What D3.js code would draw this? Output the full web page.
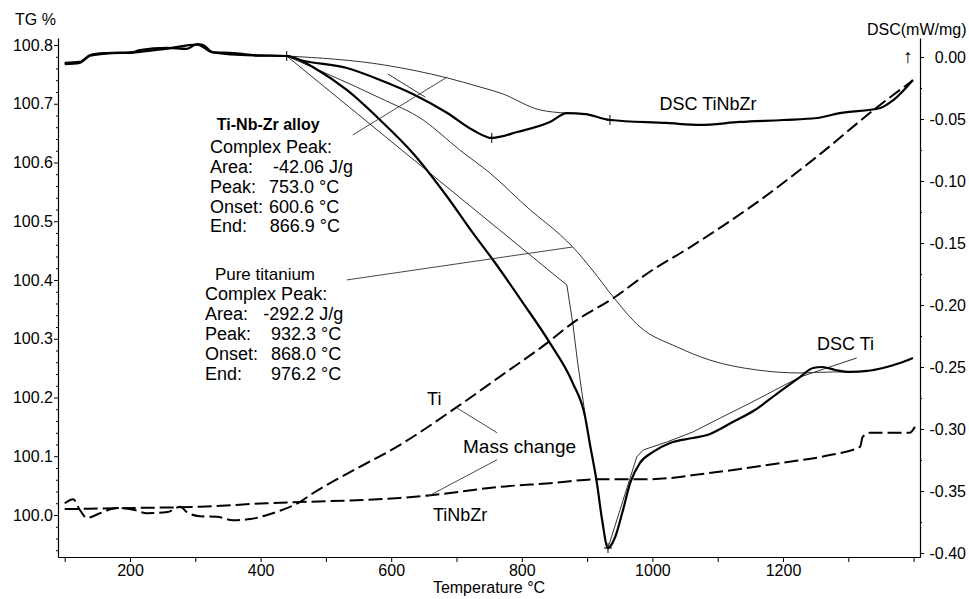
<!DOCTYPE html>
<html><head><meta charset="utf-8">
<script src="https://cdn.jsdelivr.net/npm/d3@7"></script>
<style>
body{margin:0;background:#fff;}
svg text{font-family:"Liberation Sans",Arial,sans-serif;fill:#000;}
</style></head>
<body><svg id="c" width="969" height="599"></svg>
<script>
// ---------- DATA (temperature °C, value) ----------
// DSC curves, mW/mg (right axis)
const dscTiNbZr = [[100,-0.0048],[123,-0.0040],[139,0.0016],[165,0.0032],[205,0.0040],[215,0.0056],[257,0.0073],[287,0.0065],[303,0.0105],[312,0.0097],[327,0.0040],[358,0.0032],[388,0.0016],[440,0.0008],[460,-0.0024],[532,-0.0089],[583,-0.0185],[633,-0.0298],[686,-0.0452],[725,-0.0589],[754,-0.0653],[793,-0.0605],[843,-0.0524],[869,-0.0452],[897,-0.0460],[935,-0.0508],[1022,-0.0532],[1073,-0.0548],[1134,-0.0524],[1200,-0.0508],[1252,-0.0492],[1287,-0.0452],[1349,-0.0411],[1369,-0.0347],[1399,-0.0185]];
const dscTi = [[100,-0.0058],[123,-0.0048],[139,0.0010],[165,0.0028],[205,0.0036],[257,0.0068],[303,0.0100],[327,0.0036],[388,0.0012],[440,0.0008],[460,-0.0024],[480,-0.0081],[532,-0.0266],[583,-0.0508],[633,-0.0774],[686,-0.1129],[725,-0.1419],[756,-0.1637],[802,-0.1984],[843,-0.2306],[878,-0.2629],[897,-0.2903],[904,-0.3113],[915,-0.3435],[923,-0.3734],[932,-0.3960],[943,-0.3871],[955,-0.3653],[966,-0.3435],[981,-0.3274],[1001,-0.3185],[1027,-0.3113],[1062,-0.3073],[1084,-0.3048],[1123,-0.2944],[1157,-0.2847],[1192,-0.2710],[1226,-0.2581],[1246,-0.2508],[1260,-0.2500],[1280,-0.2524],[1303,-0.2540],[1329,-0.2532],[1353,-0.2508],[1379,-0.2468],[1399,-0.2427]];
// peak evaluation construction lines (DSC axis)
const baseTiNbZr = [[440,0.0008],[590,-0.0065],[686,-0.0169],[736,-0.0242],[767,-0.0290],[828,-0.0427],[869,-0.0452]];
const onsetTiNbZr = [[595,-0.0137],[652,-0.0323]];
const baseTi = [[440,0.0008],[506,-0.0145],[583,-0.0331],[649,-0.0508],[705,-0.0750],[751,-0.0935],[813,-0.1234],[859,-0.1435],[878,-0.1532],[908,-0.1718],[940,-0.1935],[981,-0.2177],[1038,-0.2339],[1088,-0.2444],[1160,-0.2524],[1226,-0.2548],[1277,-0.2540],[1303,-0.2540]];
const onsetTi = [[440,0.0008],[869,-0.1839],[878,-0.2145],[885,-0.2444],[897,-0.2887]];
const endTi = [[932,-0.3960],[976,-0.3226],[986,-0.3169],[1022,-0.3105],[1062,-0.3024],[1104,-0.2911],[1150,-0.2790],[1226,-0.2581],[1267,-0.2508],[1313,-0.2427]];
const peakMarks = [[440,0.0008],[754,-0.0653],[935,-0.0508],[932,-0.3960]];
// TG mass change curves, % (left axis)
const tgTi = [[100,100.020],[113,100.027],[123,100.009],[134,99.995],[154,100.003],[180,100.012],[205,100.009],[226,100.003],[257,100.005],[277,100.014],[287,100.005],[307,99.998],[333,99.997],[358,99.991],[384,99.993],[410,100.000],[434,100.009],[460,100.022],[480,100.037],[537,100.073],[613,100.119],[701,100.184],[767,100.236],[839,100.293],[878,100.327],[940,100.369],[996,100.414],[1058,100.456],[1165,100.536],[1252,100.610],[1344,100.694],[1399,100.740]];
const tgTiNbZr = [[100,100.010],[205,100.012],[307,100.014],[410,100.020],[460,100.022],[613,100.029],[664,100.034],[767,100.048],[843,100.054],[920,100.061],[996,100.061],[1084,100.071],[1200,100.089],[1272,100.102],[1318,100.116],[1322,100.133],[1333,100.140],[1394,100.140],[1402,100.150]];
// ticks
const xTicks = [100,200,300,400,500,600,700,800,900,1000,1100,1200,1300,1400];
const xLabels = [200,400,600,800,1000,1200];
const tgTicks = [100.0,100.1,100.2,100.3,100.4,100.5,100.6,100.7,100.8];
const dscTicks = [0,-0.05,-0.10,-0.15,-0.20,-0.25,-0.30,-0.35,-0.40];
// annotation texts
const blockTiNbZr = ["Complex Peak:","Area:","Peak:","Onset:","End:"];
const valsTiNbZr = ["","-42.06 J/g","753.0 °C","600.6 °C","866.9 °C"];
const blockTi = ["Complex Peak:","Area:","Peak:","Onset:","End:"];
const valsTi = ["","-292.2 J/g","932.3 °C","868.0 °C","976.2 °C"];

// ---------- CHART ----------
const svg = d3.select("#c");
const L=58,R=920,T=38,B=557;
const x = d3.scaleLinear().domain([89.74,1409.8]).range([L,R]);
const yTG = d3.scaleLinear().domain([99.92851,100.81191]).range([B,T]);
const yD = d3.scaleLinear().domain([-0.40323,0.01532]).range([B,T]);

function styleAxis(g,fs){
  g.select(".domain").attr("stroke","#000").attr("stroke-width",1.2);
  g.selectAll(".tick line").attr("stroke","#000");
  g.selectAll(".tick text").attr("font-size",fs).attr("fill","#222")
   .style("font-family",'"Liberation Sans",Arial,sans-serif');
}
// bottom axis
const gx = svg.append("g").attr("transform",`translate(0,${B})`)
  .call(d3.axisBottom(x).tickValues(xTicks).tickFormat(d=>xLabels.includes(d)?d:"").tickSizeInner(5).tickSizeOuter(0));
styleAxis(gx,16);
// left axis
const gl = svg.append("g").attr("transform",`translate(${L},0)`)
  .call(d3.axisLeft(yTG).tickValues(tgTicks).tickFormat(d3.format(".1f")).tickSizeInner(4).tickSizeOuter(0));
styleAxis(gl,16);
gl.selectAll(".tick text").attr("x",-5);
const tgMinor = d3.range(99.94,100.81,0.02).filter(v=>!tgTicks.some(t=>Math.abs(t-v)<1e-6));
svg.append("g").attr("transform",`translate(${L},0)`)
  .call(d3.axisLeft(yTG).tickValues(tgMinor).tickFormat("").tickSizeInner(2).tickSizeOuter(0))
  .call(g=>{g.select(".domain").remove();g.selectAll("line").attr("stroke","#000");});
// right axis
const gr = svg.append("g").attr("transform",`translate(${R},0)`)
  .call(d3.axisRight(yD).tickValues(dscTicks).tickFormat(d=>Math.abs(d)<1e-9?"0.00":d.toFixed(2)).tickSizeInner(4).tickSizeOuter(0));
styleAxis(gr,16);
gr.selectAll(".tick text").attr("text-anchor","end").attr("x",46);
const dMinor = d3.range(0,9).map(i=>-0.025-i*0.05).filter(v=>v>-0.40);
svg.append("g").attr("transform",`translate(${R},0)`)
  .call(d3.axisRight(yD).tickValues(dMinor).tickFormat("").tickSizeInner(2).tickSizeOuter(0))
  .call(g=>{g.select(".domain").remove();g.selectAll("line").attr("stroke","#000");});

// axis titles
svg.append("text").attr("x",15).attr("y",25).attr("font-size",16).attr("fill","#222").text("TG %");
svg.append("text").attr("x",867).attr("y",35).attr("font-size",16).attr("fill","#222").text("DSC(mW/mg)");
svg.append("text").attr("x",908).attr("y",63).attr("font-size",19).attr("text-anchor","middle").text("↑");
svg.append("text").attr("x",(L+R)/2).attr("y",593).attr("font-size",16).attr("text-anchor","middle").attr("fill","#222").text("Temperature °C");

// line generators
const lineD = (c)=>d3.line().x(d=>x(d[0])).y(d=>yD(d[1])).curve(c||d3.curveMonotoneX);
const lineTG = d3.line().x(d=>x(d[0])).y(d=>yTG(d[1])).curve(d3.curveMonotoneX);
const plot = svg.append("g").attr("fill","none").attr("stroke-linejoin","round");

// thin construction lines
plot.append("path").attr("d",lineD()(baseTiNbZr)).attr("stroke","#333").attr("stroke-width",1);
plot.append("path").attr("d",lineD(d3.curveLinear)(onsetTiNbZr)).attr("stroke","#333").attr("stroke-width",1);
plot.append("path").attr("d",lineD()(baseTi)).attr("stroke","#333").attr("stroke-width",1);
plot.append("path").attr("d",lineD(d3.curveLinear)(onsetTi)).attr("stroke","#333").attr("stroke-width",1);
plot.append("path").attr("d",lineD(d3.curveLinear)(endTi)).attr("stroke","#333").attr("stroke-width",1);

// TG dashed
plot.append("path").attr("d",lineTG(tgTi)).attr("stroke","#000").attr("stroke-width",2).attr("stroke-dasharray","13,5");
plot.append("path").attr("d",lineTG(tgTiNbZr)).attr("stroke","#000").attr("stroke-width",2).attr("stroke-dasharray","14,5");

// DSC thick
plot.append("path").attr("d",lineD()(dscTiNbZr)).attr("stroke","#000").attr("stroke-width",2.2);
plot.append("path").attr("d",lineD()(dscTi)).attr("stroke","#000").attr("stroke-width",2.2);

// peak markers
plot.selectAll("path.mk").data(peakMarks).join("path").attr("class","mk")
  .attr("d",d=>{const px=x(d[0]),py=yD(d[1]);return `M${px-4},${py}h8M${px},${py-5}v10`;})
  .attr("stroke","#000").attr("stroke-width",1);

// leader lines
const seg = (a,b,sy)=>plot.append("line").attr("x1",x(a[0])).attr("y1",sy(a[1])).attr("x2",x(b[0])).attr("y2",sy(b[1]))
  .attr("stroke","#333").attr("stroke-width",0.9);
seg([541,-0.0629],[686,-0.0161],yD);
seg([532,-0.1798],[878,-0.1532],yD);
seg([701,100.182],[762,100.140],yTG);
seg([762,100.094],[655,100.031],yTG);

// labels
const lab = (t,vx,vy,sy,fs,w)=>svg.append("text").attr("x",x(vx)).attr("y",sy(vy)).attr("font-size",fs).attr("font-weight",w||"normal").text(t);
lab("DSC TiNbZr",1011,-0.0427,yD,18);
lab("DSC Ti",1252,-0.2363,yD,18);
lab("Ti",655,100.187,yTG,18);
lab("Mass change",710,100.106,yTG,19);
lab("TiNbZr",664,99.990,yTG,18);

lab("Ti-Nb-Zr alloy",333,-0.0589,yD,16,"bold");
const yb1 = [-0.0774,-0.0935,-0.1097,-0.1258,-0.1411];
const vx1 = [0,419,413,413,414];
blockTiNbZr.forEach((t,i)=>{lab(t,322.5,yb1[i],yD,18); if(valsTiNbZr[i]) lab(valsTiNbZr[i],vx1[i],yb1[i],yD,18);});
lab("Pure titanium",330,-0.1798,yD,17);
const yb2 = [-0.1960,-0.2121,-0.2282,-0.2444,-0.2605];
const vx2 = [0,404,416,416,416];
blockTi.forEach((t,i)=>{lab(t,315,yb2[i],yD,18); if(valsTi[i]) lab(valsTi[i],vx2[i],yb2[i],yD,18);});
</script>
</body></html>
